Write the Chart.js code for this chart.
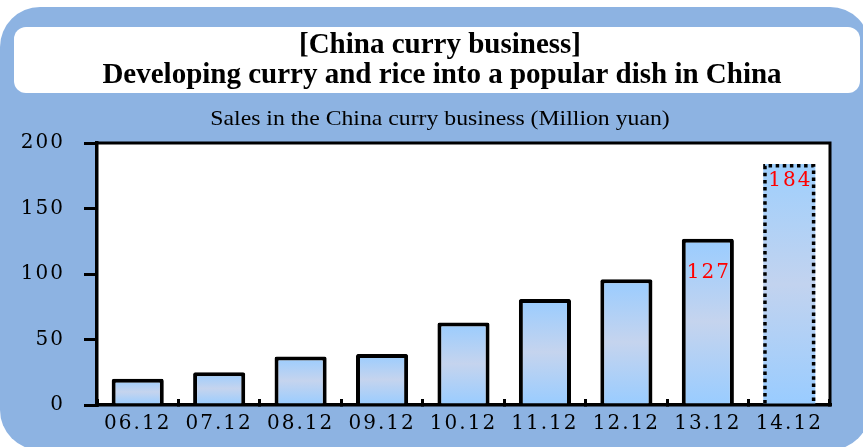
<!DOCTYPE html>
<html>
<head>
<meta charset="utf-8">
<script src="https://cdn.jsdelivr.net/npm/chart.js@4.4.1/dist/chart.umd.min.js"></script>
<style>
  body { margin: 0; background: #fff; }
  canvas { display: block; }
</style>
</head>
<body>
<canvas id="graficoCurry" width="863" height="447"></canvas>
<script>
const periodos = ['06.12', '07.12', '08.12', '09.12', '10.12', '11.12', '12.12', '13.12', '14.12'];
const vendas = [20, 25, 37, 39, 63, 81, 96, 127, 184];
const rotulosVermelhos = ['', '', '', '', '', '', '', '127', '184'];
const ticksY = [0, 50, 100, 150, 200];

const titulo1 = '[China curry business]';
const titulo2 = 'Developing curry and rice into a popular dish in China';
const subtitulo = 'Sales in the China curry business (Million yuan)';

const ultimo = vendas.length - 1;
const deslocRotulo = [0, 0, 0, 0, 0, 0, 0, 39, 22];

function gradienteBarra(c) {
  const chart = c.chart;
  const y = chart.scales.y;
  if (!chart.chartArea || !y) return '#99ccff';
  const topo = y.getPixelForValue(c.raw);
  const base = y.getPixelForValue(0);
  const g = chart.ctx.createLinearGradient(0, topo, 0, base);
  if (c.dataIndex === ultimo) {
    g.addColorStop(0, '#9ecffd');
    g.addColorStop(0.5, '#c2d3ef');
    g.addColorStop(1, '#99ccff');
  } else {
    g.addColorStop(0, '#99ccff');
    g.addColorStop(0.5, '#c5d4ee');
    g.addColorStop(1, '#99ccff');
  }
  return g;
}

const espacamento = {
  id: 'espacamento',
  beforeUpdate(chart) { chart.ctx.letterSpacing = '2px'; },
  beforeDraw(chart) { chart.ctx.letterSpacing = '2px'; }
};

const fundo = {
  id: 'fundo',
  beforeDraw(chart) {
    const ctx = chart.ctx;
    const area = chart.chartArea;
    ctx.save();
    ctx.letterSpacing = '0px';
    ctx.fillStyle = '#fff';
    ctx.fillRect(0, 0, chart.width, chart.height);
    ctx.fillStyle = '#8db3e2';
    ctx.beginPath();
    ctx.roundRect(0, 7, 870, 443, 40);
    ctx.fill();
    ctx.fillStyle = '#fff';
    ctx.beginPath();
    ctx.roundRect(14, 27, 846, 66, 12);
    ctx.fill();
    ctx.fillRect(area.left, area.top, area.right - area.left, area.bottom - area.top);

    ctx.fillStyle = '#000';
    ctx.textAlign = 'center';
    ctx.textBaseline = 'alphabetic';
    ctx.font = 'bold 29px "Liberation Serif"';
    ctx.fillText(titulo1, 440, 53);
    ctx.fillText(titulo2, 442, 83);

    ctx.save();
    ctx.font = '21px "Liberation Serif"';
    ctx.translate(440, 125);
    ctx.scale(1.13, 1);
    ctx.fillText(subtitulo, 0, 0);
    ctx.restore();
    ctx.restore();
  }
};

const moldura = {
  id: 'moldura',
  afterDatasetsDraw(chart) {
    const ctx = chart.ctx;
    const area = chart.chartArea;
    const barra = chart.getDatasetMeta(0).data[ultimo];
    ctx.save();
    ctx.letterSpacing = '0px';
    // borda pontilhada da barra de 14.12
    ctx.strokeStyle = '#000';
    ctx.lineWidth = 3.5;
    ctx.setLineDash([3.5, 3.6]);
    const esq = barra.x - barra.width / 2 + 1.75;
    const dir = barra.x + barra.width / 2 - 1.75;
    ctx.beginPath();
    ctx.moveTo(esq, barra.base);
    ctx.lineTo(esq, barra.y + 1.75);
    ctx.lineTo(dir, barra.y + 1.75);
    ctx.lineTo(dir, barra.base);
    ctx.stroke();
    ctx.setLineDash([]);

    // topo e lado direito do quadro
    ctx.lineWidth = 3;
    ctx.beginPath();
    ctx.moveTo(area.left, area.top);
    ctx.lineTo(area.right, area.top);
    ctx.lineTo(area.right, area.bottom);
    ctx.stroke();

    // rotulos vermelhos
    ctx.fillStyle = '#ff0000';
    ctx.font = '20px "DejaVu Serif"';
    ctx.textAlign = 'center';
    ctx.textBaseline = 'alphabetic';
    ctx.letterSpacing = '2px';
    chart.getDatasetMeta(0).data.forEach((b, i) => {
      if (!rotulosVermelhos[i]) return;
      ctx.fillText(rotulosVermelhos[i], b.x + 1, b.y + deslocRotulo[i]);
    });
    ctx.restore();
  }
};

const graficoCurry = new Chart(document.getElementById('graficoCurry'), {
  type: 'bar',
  data: {
    labels: periodos,
    datasets: [{
      label: 'Sales',
      data: vendas,
      backgroundColor: gradienteBarra,
      borderColor: '#000',
      borderWidth: vendas.map((v, i) => i === ultimo ? 0 : 4),
      borderRadius: 2,
      barPercentage: 0.64,
      categoryPercentage: 1
    }]
  },
  options: {
    responsive: false,
    devicePixelRatio: 1,
    animation: false,
    layout: { padding: { top: 143, right: 33, bottom: 0, left: 0 } },
    plugins: {
      legend: { display: false },
      title: { display: false },
      tooltip: { enabled: false }
    },
    scales: {
      x: {
        afterFit(s) { s.height = 42; },
        grid: {
          drawOnChartArea: false,
          drawTicks: true,
          tickLength: -6,
          color: '#000',
          lineWidth: 3
        },
        border: { display: true, color: '#000', width: 3.5 },
        ticks: {
          color: '#000',
          padding: 13,
          font: { family: 'DejaVu Serif', size: 20 }
        }
      },
      y: {
        min: 0,
        max: 200,
        afterFit(s) { s.width = 97; },
        afterBuildTicks(s) { s.ticks = ticksY.map(v => ({ value: v })); },
        grid: {
          drawOnChartArea: false,
          drawTicks: true,
          tickLength: 13,
          color: '#000',
          lineWidth: 3
        },
        border: { display: true, color: '#000', width: 3.5 },
        ticks: {
          color: '#000',
          padding: 19,
          font: { family: 'DejaVu Serif', size: 20 }
        }
      }
    }
  },
  plugins: [espacamento, fundo, moldura]
});
</script>
</body>
</html>
